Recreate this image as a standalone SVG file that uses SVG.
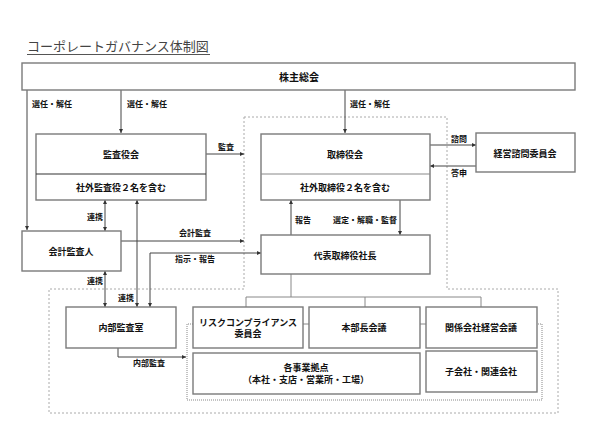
<svg xmlns="http://www.w3.org/2000/svg" width="597" height="448" viewBox="0 0 597 448">
<defs>
<marker id="ah" viewBox="0 0 6 6" refX="6" refY="3" markerWidth="4" markerHeight="4" orient="auto-start-reverse" markerUnits="userSpaceOnUse">
<path d="M0,0 L6,3 L0,6 z" fill="#333"/>
</marker>
<style>
text{font-family:"Noto Sans CJK JP","Noto Sans CJK SC",sans-serif;fill:#111}
.box{fill:#fff;stroke:#7a7a7a;stroke-width:1.4}
.div{stroke:#333;stroke-width:1.2}
.t{font-size:9px;font-weight:700;text-anchor:middle}
.tl{font-size:10px;font-weight:700;text-anchor:middle}
.e{font-size:8px;font-weight:700}
.c{fill:none;stroke:#444;stroke-width:1}
.a{marker-end:url(#ah)}
.b{marker-start:url(#ah);marker-end:url(#ah)}
.dash{fill:none;stroke:#aaa;stroke-width:1;stroke-dasharray:2 2}
.dot{fill:none;stroke:#888;stroke-width:1;stroke-dasharray:1 1}
.seg{fill:none;stroke:#888;stroke-width:1}
</style>
</defs>
<rect width="597" height="448" fill="#fff"/>

<g id="title">
<text x="27" y="51" style="font-size:13px;fill:#444">コーポレートガバナンス体制図</text>
<line x1="27" y1="54.5" x2="210" y2="54.5" stroke="#555" stroke-width="1"/>
</g>

<g id="regions">
<path class="dash" d="M244,117 H447 V289 H558 V413 H49 V289 H244 Z"/>
<path class="dot" d="M193,324 H187 V400 H542 V324 H537"/>
<path class="seg" d="M303,324 H309 M420,324 H426"/>
</g>

<g id="connectors">
<path class="c a" d="M27,90 V230"/>
<path class="c a" d="M121,90 V133"/>
<path class="c a" d="M345,90 V133"/>
<path class="c a" d="M206,154 H244"/>
<path class="c a" d="M430,145 H476"/>
<path class="c a" d="M476,166 H430"/>
<path class="c a" d="M291,235 V200"/>
<path class="c a" d="M400,200 V235"/>
<path class="c b" d="M105,200 V231"/>
<path class="c b" d="M105,271 V307"/>
<path class="c b" d="M137,200 V307"/>
<path class="c a" d="M121,241 H244"/>
<path class="c b" d="M150,307 V253 H261"/>
<path class="c a" d="M118,348 V357 H186"/>
<path class="seg" d="M291,274 V297 M246,297 H481 M246,297 V307 M365,297 V307 M481,297 V307"/>
<text class="e" x="32" y="107">選任・解任</text>
<text class="e" x="127" y="107">選任・解任</text>
<text class="e" x="350" y="107">選任・解任</text>
<text class="e" x="226" y="150" text-anchor="middle">監査</text>
<text class="e" x="451" y="142">諮問</text>
<text class="e" x="451" y="176">答申</text>
<text class="e" x="95" y="220" text-anchor="middle">連携</text>
<text class="e" x="195" y="236" text-anchor="middle">会計監査</text>
<text class="e" x="195" y="262" text-anchor="middle">指示・報告</text>
<text class="e" x="295" y="223">報告</text>
<text class="e" x="397" y="223" text-anchor="end">選定・解職・監督</text>
<text class="e" x="95" y="284" text-anchor="middle">連携</text>
<text class="e" x="126" y="301" text-anchor="middle">連携</text>
<text class="e" x="149" y="366" text-anchor="middle">内部監査</text>
</g>

<g id="shareholders">
<rect class="box" x="22" y="63" width="553" height="27"/>
<text class="tl" x="299" y="80.5">株主総会</text>
</g>

<g id="audit-board">
<rect class="box" x="36" y="134" width="170" height="66"/>
<line class="div" x1="36" y1="174" x2="206" y2="174"/>
<text class="t" x="121" y="157.5">監査役会</text>
<text class="t" x="121" y="190.5">社外監査役２名を含む</text>
</g>

<g id="board">
<rect class="box" x="261" y="134" width="169" height="66"/>
<line class="seg" x1="261" y1="174" x2="430" y2="174" stroke="#777"/>
<text class="t" x="345" y="157.5">取締役会</text>
<text class="t" x="345" y="190.5">社外取締役２名を含む</text>
</g>

<g id="advisory">
<rect class="box" x="476" y="133" width="99" height="39"/>
<text class="t" x="525" y="156.5">経営諮問委員会</text>
</g>

<g id="accounting-auditor">
<rect class="box" x="22" y="231" width="99" height="40"/>
<text class="t" x="71" y="254.5">会計監査人</text>
</g>

<g id="president">
<rect class="box" x="261" y="235" width="169" height="39"/>
<text class="t" x="345" y="258.5">代表取締役社長</text>
</g>

<g id="internal-audit">
<rect class="box" x="66" y="307" width="110" height="41"/>
<text class="t" x="121" y="330.5">内部監査室</text>
</g>

<g id="risk">
<rect class="box" x="193" y="307" width="110" height="41"/>
<text class="t" x="248" y="325.5">リスクコンプライアンス</text>
<text class="t" x="248" y="337">委員会</text>
</g>

<g id="division-heads">
<rect class="box" x="309" y="307" width="111" height="41"/>
<text class="t" x="364" y="330.5">本部長会議</text>
</g>

<g id="affiliates-meeting">
<rect class="box" x="426" y="307" width="111" height="41"/>
<text class="t" x="481" y="330.5">関係会社経営会議</text>
</g>

<g id="business-sites">
<rect class="box" x="193" y="353" width="227" height="41"/>
<text class="t" x="306" y="370.5">各事業拠点</text>
<text class="t" x="306" y="382.5">（本社・支店・営業所・工場）</text>
</g>

<g id="subsidiaries">
<rect class="box" x="426" y="351" width="111" height="41"/>
<text class="t" x="481" y="375">子会社・関連会社</text>
</g>
</svg>
